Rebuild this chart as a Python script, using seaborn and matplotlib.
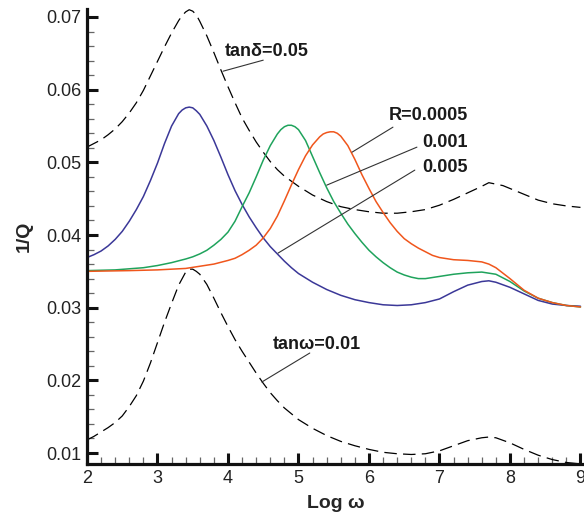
import matplotlib
matplotlib.use("Agg")
import matplotlib.pyplot as plt
from matplotlib.ticker import MultipleLocator
import seaborn as sns

# ---- data: loss factor 1/Q versus log frequency ----
x_tand = [2.0, 2.1, 2.2, 2.3, 2.4, 2.5, 2.6, 2.7, 2.8, 2.9, 3.0, 3.1, 3.2, 3.3, 3.35,
          3.4, 3.45, 3.5, 3.55, 3.6, 3.7, 3.8, 3.9, 4.0, 4.1, 4.2, 4.3, 4.4, 4.5, 4.6,
          4.7, 4.8, 5.0, 5.2, 5.4, 5.6, 5.8, 6.0, 6.2, 6.4, 6.6, 6.8, 7.0, 7.2, 7.4,
          7.6, 7.7, 7.8, 7.9, 8.0, 8.2, 8.4, 8.6, 8.8, 9.0]
y_tand = [0.0521, 0.0526, 0.0531, 0.0538, 0.0546, 0.0556, 0.0568, 0.0582, 0.0599,
          0.0619, 0.0639, 0.0659, 0.0678, 0.0695, 0.0702, 0.0707, 0.0710, 0.0708,
          0.0703, 0.0694, 0.0674, 0.0651, 0.0627, 0.0604, 0.0582, 0.0561, 0.0544,
          0.0528, 0.0514, 0.0501, 0.0490, 0.0481, 0.0467, 0.0455, 0.0446, 0.0439,
          0.0435, 0.0432, 0.0430, 0.0430, 0.0432, 0.0435, 0.0441, 0.0449, 0.0458,
          0.0467, 0.0472, 0.0470, 0.0468, 0.0464, 0.0456, 0.0448, 0.0443, 0.0440,
          0.0438]

x_r0005 = [2.0, 2.6, 3.0, 3.4, 3.6, 3.8, 4.0, 4.1, 4.2, 4.3, 4.4, 4.5, 4.6, 4.7, 4.8,
           4.9, 5.0, 5.1, 5.2, 5.3, 5.35, 5.4, 5.45, 5.5, 5.55, 5.6, 5.7, 5.8, 5.9,
           6.0, 6.1, 6.2, 6.3, 6.4, 6.5, 6.6, 6.7, 6.8, 6.9, 7.0, 7.2, 7.4, 7.6, 7.7,
           7.8, 8.0, 8.2, 8.4, 8.6, 8.8, 9.0]
y_r0005 = [0.0350, 0.0351, 0.0352, 0.0354, 0.0357, 0.0360, 0.0365, 0.0368, 0.0373,
           0.0379, 0.0386, 0.0396, 0.0409, 0.0426, 0.0447, 0.0469, 0.0490, 0.0509,
           0.0524, 0.0535, 0.0539, 0.0541, 0.0542, 0.0542, 0.0540, 0.0536, 0.0523,
           0.0504, 0.0483, 0.0464, 0.0446, 0.0431, 0.0417, 0.0405, 0.0395, 0.0388,
           0.0382, 0.0377, 0.0372, 0.0369, 0.0366, 0.0365, 0.0363, 0.0360, 0.0355,
           0.0340, 0.0324, 0.0313, 0.0307, 0.0303, 0.0301]

x_r001 = [2.0, 2.4, 2.8, 3.0, 3.2, 3.4, 3.5, 3.6, 3.7, 3.8, 3.9, 4.0, 4.1, 4.2, 4.3,
          4.4, 4.5, 4.6, 4.7, 4.75, 4.8, 4.85, 4.9, 4.95, 5.0, 5.1, 5.2, 5.3, 5.4, 5.5,
          5.6, 5.7, 5.8, 5.9, 6.0, 6.1, 6.2, 6.3, 6.4, 6.5, 6.6, 6.7, 6.8, 7.0, 7.2,
          7.4, 7.6, 7.8, 8.0, 8.2, 8.4, 8.6, 8.8, 9.0]
y_r001 = [0.0351, 0.0352, 0.0355, 0.0358, 0.0362, 0.0367, 0.0370, 0.0374, 0.0379,
          0.0386, 0.0394, 0.0404, 0.0419, 0.0439, 0.0458, 0.0480, 0.0503, 0.0523,
          0.0539, 0.0545, 0.0549, 0.0551, 0.0551, 0.0549, 0.0545, 0.0530, 0.0508,
          0.0486, 0.0465, 0.0446, 0.0430, 0.0415, 0.0402, 0.0390, 0.0379, 0.0370,
          0.0362, 0.0355, 0.0349, 0.0345, 0.0342, 0.0340, 0.0340, 0.0343, 0.0346,
          0.0348, 0.0349, 0.0346, 0.0336, 0.0323, 0.0313, 0.0307, 0.0303, 0.0301]

x_r005 = [2.0, 2.1, 2.2, 2.3, 2.4, 2.5, 2.6, 2.7, 2.8, 2.9, 3.0, 3.1, 3.2, 3.3, 3.35,
          3.4, 3.45, 3.5, 3.55, 3.6, 3.7, 3.8, 3.9, 4.0, 4.1, 4.2, 4.3, 4.4, 4.5, 4.6,
          4.7, 4.8, 4.9, 5.0, 5.2, 5.4, 5.6, 5.8, 6.0, 6.2, 6.4, 6.6, 6.8, 7.0, 7.2,
          7.4, 7.6, 7.7, 7.8, 8.0, 8.2, 8.4, 8.6, 8.8, 9.0]
y_r005 = [0.0369, 0.0373, 0.0378, 0.0385, 0.0394, 0.0405, 0.0419, 0.0435, 0.0453,
          0.0475, 0.0499, 0.0526, 0.0550, 0.0567, 0.0572, 0.0575, 0.0576, 0.0575,
          0.0571, 0.0566, 0.0550, 0.0530, 0.0507, 0.0483, 0.0461, 0.0442, 0.0425,
          0.0410, 0.0396, 0.0384, 0.0374, 0.0364, 0.0355, 0.0347, 0.0335, 0.0325,
          0.0317, 0.0311, 0.0307, 0.0304, 0.0303, 0.0304, 0.0307, 0.0312, 0.0322,
          0.0331, 0.0336, 0.0337, 0.0335, 0.0328, 0.0319, 0.0310, 0.0305, 0.0303,
          0.0302]

x_tanw = [2.0, 2.1, 2.2, 2.3, 2.4, 2.5, 2.6, 2.7, 2.8, 2.9, 3.0, 3.1, 3.2, 3.3, 3.4,
          3.45, 3.5, 3.55, 3.6, 3.7, 3.8, 3.9, 4.0, 4.1, 4.2, 4.3, 4.4, 4.5, 4.6, 4.7,
          4.8, 5.0, 5.2, 5.4, 5.6, 5.8, 6.0, 6.2, 6.4, 6.6, 6.8, 7.0, 7.2, 7.4, 7.6,
          7.7, 7.8, 8.0, 8.2, 8.4, 8.6, 8.8, 9.0]
y_tanw = [0.0118, 0.0123, 0.0129, 0.0135, 0.0142, 0.0151, 0.0164, 0.0179, 0.0199,
          0.0224, 0.0252, 0.0280, 0.0306, 0.0331, 0.0349, 0.0353, 0.0353, 0.0350,
          0.0346, 0.0332, 0.0313, 0.0293, 0.0274, 0.0256, 0.0240, 0.0225, 0.0210,
          0.0196, 0.0183, 0.0172, 0.0162, 0.0146, 0.0134, 0.0124, 0.0116, 0.0110,
          0.0105, 0.0101, 0.0099, 0.0098, 0.0099, 0.0103, 0.0110, 0.0117, 0.0121,
          0.0122, 0.0121, 0.0114, 0.0105, 0.0097, 0.0091, 0.0087, 0.0085]

x_ticks = [2, 3, 4, 5, 6, 7, 8, 9]
y_ticks = [0.01, 0.02, 0.03, 0.04, 0.05, 0.06, 0.07]

# ---- style ----
sns.set_style("ticks")
plt.rcParams["font.family"] = ["Liberation Sans", "DejaVu Sans"]

fig = plt.figure(figsize=(5.84, 5.18), dpi=100)
ax = fig.add_axes([87 / 584, 54 / 518, 497 / 584, 455 / 518])

dash = (0, (10, 5))
line_kw = dict(ax=ax, estimator=None, sort=False, solid_joinstyle="round")
sns.lineplot(x=x_tand, y=y_tand, color="black", lw=0.9, linestyle=dash, **line_kw)
sns.lineplot(x=x_tanw, y=y_tanw, color="black", lw=0.9, linestyle=dash, **line_kw)
sns.lineplot(x=x_r005, y=y_r005, color="#3b3898", lw=1.1, **line_kw)
sns.lineplot(x=x_r001, y=y_r001, color="#1fa35c", lw=1.1, **line_kw)
sns.lineplot(x=x_r0005, y=y_r0005, color="#f0561c", lw=1.1, **line_kw)

ax.set_xlim(2, 9.05)
ax.set_ylim(0.00849, 0.0711)
ax.set_xticks(x_ticks)
ax.set_yticks(y_ticks)
ax.set_xticklabels([str(v) for v in x_ticks])
ax.set_yticklabels([f"{v:.2f}" for v in y_ticks])
ax.xaxis.set_minor_locator(MultipleLocator(0.2))
ax.yaxis.set_minor_locator(MultipleLocator(0.002))

sns.despine(ax=ax)
for side in ("left", "bottom"):
    ax.spines[side].set_linewidth(2.3)
    ax.spines[side].set_color("#111111")
ax.tick_params(which="major", direction="in", length=8, width=2.2,
               color="#111111", labelsize=13, labelcolor="#222222", pad=4)
ax.tick_params(which="minor", direction="in", length=5, width=0.9,
               color="#666666")

ax.set_xlabel("Log ω", fontsize=14, fontweight="bold", labelpad=6)
ax.set_ylabel("1/Q", fontsize=14, fontweight="bold", labelpad=10)

# ---- annotations with leader lines ----
lead = dict(arrowstyle="-", lw=0.8, color="#333333", shrinkA=0, shrinkB=0)
tfont = dict(fontsize=13, fontweight="bold", color="#1a1a1a")

ax.text(3.96, 0.0652, "tanδ=0.05", ha="left", va="center", **tfont)
ax.annotate("", xy=(3.93, 0.06254), xytext=(4.50, 0.06406), arrowprops=lead)

ax.text(4.64, 0.0249, "tanω=0.01", ha="left", va="center", **tfont)
ax.annotate("", xy=(4.48, 0.01977), xytext=(5.16, 0.02376), arrowprops=lead)

ax.text(7.40, 0.05649, "R=0.0005", ha="right", va="center", **tfont)
ax.annotate("", xy=(5.76, 0.0514), xytext=(6.34, 0.05484), arrowprops=lead)

ax.text(7.40, 0.05278, "0.001", ha="right", va="center", **tfont)
ax.annotate("", xy=(5.40, 0.04686), xytext=(6.68, 0.05209), arrowprops=lead)

ax.text(7.40, 0.04934, "0.005", ha="right", va="center", **tfont)
ax.annotate("", xy=(4.71, 0.03751), xytext=(6.65, 0.04893), arrowprops=lead)

fig.savefig("out.png", dpi=100)
